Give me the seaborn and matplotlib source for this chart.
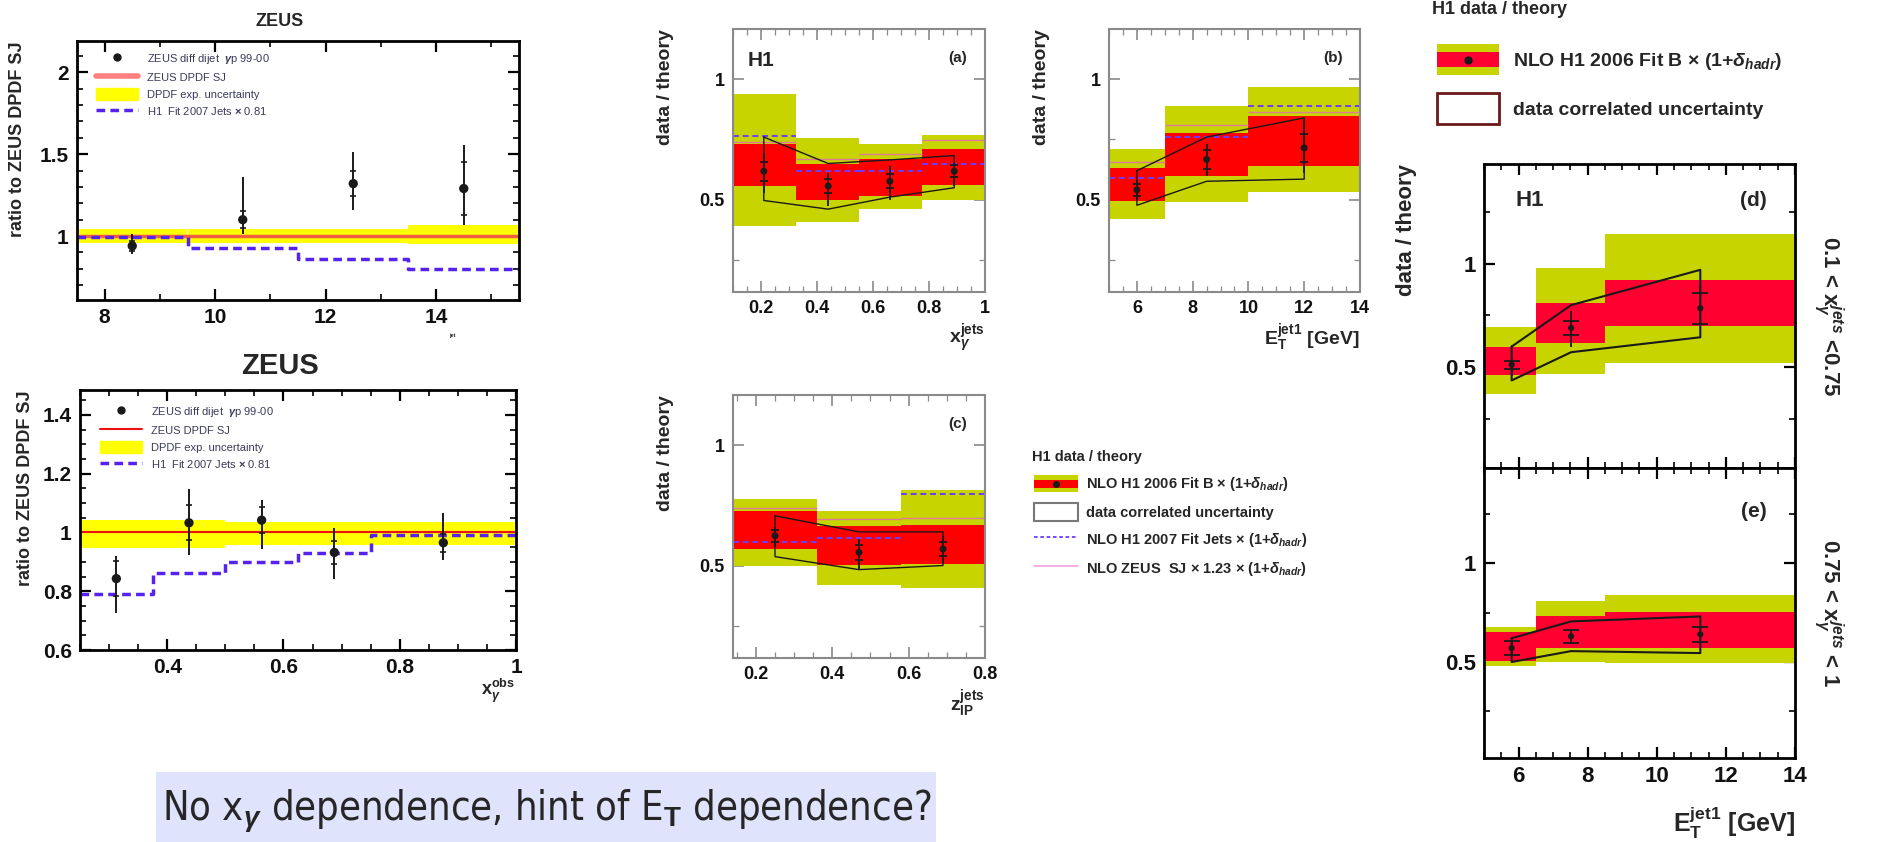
import numpy as np
import matplotlib
matplotlib.use("Agg")
import matplotlib.pyplot as plt
import seaborn as sns
from matplotlib.ticker import MultipleLocator, FuncFormatter
from matplotlib.patches import Rectangle, Patch
from matplotlib.lines import Line2D
from matplotlib.legend_handler import HandlerBase

# ZEUS: ratio to ZEUS DPDF SJ vs E_T^jet
zeus_et_edges = [7.5, 9.5, 11.5, 13.5, 15.5]
zeus_et_x = [8.5, 10.5, 12.5, 14.5]
zeus_et_y = [0.94, 1.10, 1.32, 1.29]
zeus_et_dn = [0.05, 0.09, 0.16, 0.225]
zeus_et_up = [0.07, 0.26, 0.19, 0.265]
zeus_et_stat = [0.03, 0.05, 0.075, 0.16]
zeus_et_band_lo = [0.957, 0.96, 0.955, 0.953]
zeus_et_band_hi = [1.045, 1.045, 1.045, 1.065]
zeus_et_h1fit = [0.994, 0.925, 0.86, 0.80]

# ZEUS: ratio vs x_gamma^obs
zeus_xg_edges = [0.25, 0.375, 0.5, 0.625, 0.75, 1.0]
zeus_xg_x = [0.3125, 0.4375, 0.5625, 0.6875, 0.875]
zeus_xg_y = [0.843, 1.033, 1.042, 0.932, 0.965]
zeus_xg_dn = [0.117, 0.108, 0.097, 0.092, 0.059]
zeus_xg_up = [0.077, 0.114, 0.068, 0.082, 0.10]
zeus_xg_stat = [0.06, 0.06, 0.045, 0.04, 0.03]
zeus_xg_band_lo = [0.948, 0.948, 0.957, 0.957, 0.957]
zeus_xg_band_hi = [1.044, 1.042, 1.036, 1.036, 1.034]
zeus_xg_h1fit = [0.79, 0.862, 0.90, 0.93, 0.99]

# H1 (a): data/theory vs x_gamma^jets
a_edges = [0.1, 0.325, 0.55, 0.775, 1.0]
a_x = [0.21, 0.44, 0.66, 0.89]
a_green_lo = [0.39, 0.405, 0.46, 0.50]
a_green_hi = [0.94, 0.757, 0.73, 0.767]
a_red_lo = [0.556, 0.50, 0.514, 0.56]
a_red_hi = [0.733, 0.646, 0.667, 0.71]
a_y = [0.618, 0.556, 0.576, 0.618]
a_dn = [0.09, 0.084, 0.076, 0.062]
a_up = [0.076, 0.055, 0.063, 0.035]
a_stat = [0.04, 0.03, 0.03, 0.025]
a_corr_lo = [0.496, 0.46, 0.51, 0.549]
a_corr_hi = [0.76, 0.65, 0.665, 0.683]
a_fitjets = [0.764, 0.618, 0.618, 0.646]
a_zeussj = [0.74, 0.67, 0.69, 0.747]

# H1 (b): data/theory vs E_T^jet1
b_edges = [5, 7, 10, 14]
b_x = [6, 8.5, 12]
b_green_lo = [0.417, 0.49, 0.53]
b_green_hi = [0.711, 0.89, 0.97]
b_red_lo = [0.493, 0.596, 0.64]
b_red_hi = [0.632, 0.778, 0.846]
b_y = [0.54, 0.667, 0.715]
b_dn = [0.04, 0.067, 0.105]
b_up = [0.04, 0.063, 0.115]
b_stat = [0.025, 0.04, 0.058]
b_corr_lo = [0.476, 0.576, 0.585]
b_corr_hi = [0.62, 0.76, 0.84]
b_fitjets = [0.59, 0.76, 0.89]
b_zeussj = [0.657, 0.81, 0.863]

# H1 (c): data/theory vs z_IP^jets
c_edges = [0.14, 0.36, 0.58, 0.8]
c_x = [0.25, 0.47, 0.69]
c_green_lo = [0.50, 0.42, 0.406]
c_green_hi = [0.779, 0.728, 0.815]
c_red_lo = [0.569, 0.503, 0.507]
c_red_hi = [0.727, 0.663, 0.668]
c_y = [0.624, 0.555, 0.569]
c_dn = [0.048, 0.069, 0.062]
c_up = [0.036, 0.055, 0.055]
c_stat = [0.025, 0.03, 0.03]
c_corr_lo = [0.537, 0.483, 0.50]
c_corr_hi = [0.707, 0.64, 0.64]
c_fitjets = [0.597, 0.615, 0.797]
c_zeussj = [0.739, 0.693, 0.697]

# H1 (d), (e): data/theory vs E_T^jet1 in two x_gamma bins
de_edges = [5, 6.5, 8.5, 14]
de_x = [5.8, 7.52, 11.26]
d_green_lo = [0.374, 0.47, 0.52]
d_green_hi = [0.694, 0.98, 1.145]
d_red_lo = [0.461, 0.617, 0.70]
d_red_hi = [0.597, 0.81, 0.92]
d_y = [0.513, 0.69, 0.785]
d_dn = [0.057, 0.09, 0.085]
d_up = [0.027, 0.08, 0.105]
d_stat = [0.02, 0.035, 0.075]
d_corr_lo = [0.437, 0.573, 0.645]
d_corr_hi = [0.60, 0.80, 0.97]

e_green_lo = [0.48, 0.50, 0.495]
e_green_hi = [0.677, 0.81, 0.84]
e_red_lo = [0.505, 0.57, 0.57]
e_red_hi = [0.652, 0.733, 0.752]
e_y = [0.57, 0.63, 0.64]
e_dn = [0.04, 0.037, 0.04]
e_up = [0.035, 0.037, 0.04]
e_stat = [0.035, 0.033, 0.037]
e_corr_lo = [0.50, 0.555, 0.545]
e_corr_hi = [0.62, 0.705, 0.73]

GREEN = "#c8d400"
RED = "#ff0000"
RED2 = "#ff0030"
BLUE = "#6a3cff"
PINK = "#e07a9a"
YELLOW = "#ffff00"

sns.set_theme(style="ticks")
plt.rcParams["font.family"] = ["Liberation Sans", "DejaVu Sans"]
plt.rcParams["font.weight"] = "bold"
plt.rcParams["axes.labelweight"] = "bold"
plt.rcParams["mathtext.fontset"] = "custom"
plt.rcParams["mathtext.rm"] = "Liberation Sans"
plt.rcParams["mathtext.it"] = "Liberation Sans:italic"
plt.rcParams["mathtext.bf"] = "Liberation Sans:bold"

W, H = 1881, 842
fig = plt.figure(figsize=(W / 100, H / 100), dpi=100)
fig.patch.set_facecolor("white")


def box(l, t, r, b):
    # pixel box -> figure fraction
    return [l / W, 1 - b / H, (r - l) / W, (b - t) / H]


def style_axes(ax, color, lw, xmaj, xmin, ymaj, ymin, fs):
    for s in ax.spines.values():
        s.set_color(color)
        s.set_linewidth(lw)
    ax.xaxis.set_major_locator(MultipleLocator(xmaj))
    ax.xaxis.set_minor_locator(MultipleLocator(xmin))
    ax.yaxis.set_major_locator(MultipleLocator(ymaj))
    ax.yaxis.set_minor_locator(MultipleLocator(ymin))
    fmt = FuncFormatter(lambda v, p: "%g" % round(v, 3))
    ax.xaxis.set_major_formatter(fmt)
    ax.yaxis.set_major_formatter(fmt)
    ax.tick_params(which="both", direction="in", top=True, right=True,
                   color=color, labelsize=fs, labelcolor="#111111")
    ax.tick_params(which="major", length=8, width=lw * 0.8, pad=6)
    ax.tick_params(which="minor", length=4, width=lw * 0.6)
    ax.set_facecolor("white")
    ax.grid(False)


def zeus_panel(ax, edges, x, y, dn, up, stat, band_lo, band_hi, h1fit, sj_color, sj_lw):
    ax.bar(edges[:-1], np.subtract(band_hi, band_lo), bottom=band_lo,
           width=np.diff(edges), align="edge", color=YELLOW, lw=0)
    ax.hlines(1.0, edges[0], edges[-1], colors=sj_color, lw=sj_lw)
    ax.step(edges, list(h1fit) + [h1fit[-1]], where="post", color="#5522ee",
            lw=2.5, ls=(0, (2.5, 1.5)))
    ax.errorbar(x, y, yerr=[dn, up], fmt="none", ecolor="k", elinewidth=1.4)
    ax.errorbar(x, y, yerr=stat, fmt="none", ecolor="k", elinewidth=0,
                capsize=2.5, capthick=1.2)
    sns.scatterplot(x=x, y=y, ax=ax, color="k", s=45, edgecolor="none", zorder=5)
    ax.set_xlim(edges[0], edges[-1])


def h1_panel(ax, edges, x, g_lo, g_hi, r_lo, r_hi, y, dn, up, stat, c_lo, c_hi,
             fitjets=None, zeussj=None, red=RED, corr_lw=1.0, cap=3, ms=25):
    w = np.diff(edges)
    ax.bar(edges[:-1], np.subtract(g_hi, g_lo), bottom=g_lo, width=w,
           align="edge", color=GREEN, lw=0)
    ax.bar(edges[:-1], np.subtract(r_hi, r_lo), bottom=r_lo, width=w,
           align="edge", color=red, lw=0)
    if zeussj is not None:
        ax.hlines(zeussj, edges[:-1], edges[1:], colors=PINK, lw=1.0)
    if fitjets is not None:
        ax.hlines(fitjets, edges[:-1], edges[1:], colors=BLUE, lw=1.4,
                  linestyles=(0, (3, 2)))
    xs = list(x) + list(x[::-1]) + [x[0]]
    ys = list(c_hi) + list(c_lo[::-1]) + [c_hi[0]]
    sns.lineplot(x=xs, y=ys, sort=False, estimator=None, ax=ax, color="k",
                 lw=corr_lw)
    ax.errorbar(x, y, yerr=[dn, up], fmt="none", ecolor="k", elinewidth=1.3)
    ax.errorbar(x, y, yerr=stat, fmt="none", ecolor="k", elinewidth=0,
                capsize=cap, capthick=1.3)
    sns.scatterplot(x=x, y=y, ax=ax, color="k", s=ms, edgecolor="none", zorder=5)
    ax.set_xlim(edges[0], edges[-1])
    ax.set_ylim(0.115, 1.21)


class BandHandler(HandlerBase):
    def __init__(self, inner, ms):
        super().__init__()
        self.inner = inner
        self.ms = ms

    def create_artists(self, legend, orig_handle, xdescent, ydescent, width,
                       height, fontsize, trans):
        g = Rectangle((-xdescent, -ydescent), width, height, fc=GREEN,
                      ec="none", transform=trans)
        r = Rectangle((-xdescent, -ydescent + 0.27 * height), width,
                      0.46 * height, fc=self.inner, ec="none", transform=trans)
        d = Line2D([-xdescent + width / 2], [-ydescent + height / 2],
                   marker="o", ms=self.ms, color="k", ls="none", transform=trans)
        return [g, r, d]


# ---------------- ZEUS top ----------------
ax1 = fig.add_axes(box(77, 41, 519, 300))
zeus_panel(ax1, zeus_et_edges, zeus_et_x, zeus_et_y, zeus_et_dn, zeus_et_up,
           zeus_et_stat, zeus_et_band_lo, zeus_et_band_hi, zeus_et_h1fit,
           "#f06040", 2.5)
ax1.set_ylim(0.61, 2.19)
style_axes(ax1, "black", 2.0, 2, 1, 0.5, 0.1, 15)
ax1.set_ylabel("ratio to ZEUS DPDF SJ", fontsize=13, loc="top", labelpad=10)
fig.text(280 / W, 1 - 22 / H, "ZEUS", fontsize=13, ha="center", va="center")
fig.text(452 / W, 1 - 336 / H, "jet", fontsize=4, ha="center", va="center")
zh = [Line2D([], [], marker="o", ls="none", color="k", ms=5),
      Line2D([], [], color="#ff8080", lw=4),
      Patch(color=YELLOW),
      Line2D([], [], color="#5522ee", lw=2.5, ls=(0, (2.5, 1.5)))]
zl = [r"ZEUS diff dijet  $\gamma$p 99-00", "ZEUS DPDF SJ",
      "DPDF exp. uncertainty", r"H1  Fit 2007 Jets $\times$ 0.81"]
ax1.legend(zh, zl, loc="upper left", bbox_to_anchor=(96 / W, 1 - 52 / H),
           bbox_transform=fig.transFigure, frameon=False,
           prop={"size": 8, "weight": "normal"}, labelcolor="#3a3a5a",
           handlelength=3.8, handleheight=1.3, labelspacing=0.45,
           borderpad=0, borderaxespad=0, handletextpad=0.8)

# ---------------- ZEUS bottom ----------------
ax2 = fig.add_axes(box(80, 390, 516, 650))
zeus_panel(ax2, zeus_xg_edges, zeus_xg_x, zeus_xg_y, zeus_xg_dn, zeus_xg_up,
           zeus_xg_stat, zeus_xg_band_lo, zeus_xg_band_hi, zeus_xg_h1fit,
           "#ee1111", 1.5)
ax2.set_ylim(0.6, 1.485)
style_axes(ax2, "black", 2.0, 0.2, 0.05, 0.2, 0.05, 15)
ax2.set_ylabel("ratio to ZEUS DPDF SJ", fontsize=13, loc="top", labelpad=6)
fig.text(280 / W, 1 - 366 / H, "ZEUS", fontsize=21, ha="center", va="center")
fig.text(498 / W, 1 - 691 / H, r"$\mathbf{x}_\gamma^{\mathbf{obs}}$",
         fontsize=13, ha="center", va="center")
zh2 = [Line2D([], [], marker="o", ls="none", color="k", ms=5),
       Line2D([], [], color="#ee1111", lw=1.5),
       Patch(color=YELLOW),
       Line2D([], [], color="#5522ee", lw=2.5, ls=(0, (2.5, 1.5)))]
ax2.legend(zh2, zl, loc="upper left", bbox_to_anchor=(100 / W, 1 - 405 / H),
           bbox_transform=fig.transFigure, frameon=False,
           prop={"size": 8, "weight": "normal"}, labelcolor="#3a3a5a",
           handlelength=3.8, handleheight=1.3, labelspacing=0.45,
           borderpad=0, borderaxespad=0, handletextpad=0.8)

# ---------------- H1 (a) ----------------
ax_a = fig.add_axes(box(733, 29, 985, 292))
h1_panel(ax_a, a_edges, a_x, a_green_lo, a_green_hi, a_red_lo, a_red_hi, a_y,
         a_dn, a_up, a_stat, a_corr_lo, a_corr_hi, a_fitjets, a_zeussj)
style_axes(ax_a, "#8a8a8a", 1.5, 0.2, 0.05, 0.5, 0.25, 13)
ax_a.set_ylabel("data / theory", fontsize=14, loc="top", labelpad=18)
ax_a.set_xlabel(r"$\mathbf{x}_\gamma^{\mathbf{jets}}$", fontsize=14,
                loc="right", labelpad=4)
ax_a.text(0.06, 0.88, "H1", transform=ax_a.transAxes, fontsize=15, va="center")
ax_a.text(0.93, 0.89, "(a)", transform=ax_a.transAxes, fontsize=11,
          va="center", ha="right")

# ---------------- H1 (b) ----------------
ax_b = fig.add_axes(box(1109, 29, 1360, 292))
h1_panel(ax_b, b_edges, b_x, b_green_lo, b_green_hi, b_red_lo, b_red_hi, b_y,
         b_dn, b_up, b_stat, b_corr_lo, b_corr_hi, b_fitjets, b_zeussj)
style_axes(ax_b, "#8a8a8a", 1.5, 2, 0.5, 0.5, 0.25, 13)
ax_b.set_ylabel("data / theory", fontsize=14, loc="top", labelpad=18)
ax_b.set_xlabel(r"$\mathbf{E}_\mathbf{T}^{\mathbf{jet1}}$ [GeV]", fontsize=14,
                loc="right", labelpad=4)
ax_b.text(0.93, 0.89, "(b)", transform=ax_b.transAxes, fontsize=11,
          va="center", ha="right")

# ---------------- H1 (c) ----------------
ax_c = fig.add_axes(box(733, 395, 985, 658))
h1_panel(ax_c, c_edges, c_x, c_green_lo, c_green_hi, c_red_lo, c_red_hi, c_y,
         c_dn, c_up, c_stat, c_corr_lo, c_corr_hi, c_fitjets, c_zeussj)
style_axes(ax_c, "#8a8a8a", 1.5, 0.2, 0.05, 0.5, 0.25, 13)
ax_c.set_ylabel("data / theory", fontsize=14, loc="top", labelpad=18)
ax_c.set_xlabel(r"$\mathbf{z}_{\mathbf{IP}}^{\mathbf{jets}}$", fontsize=14,
                loc="right", labelpad=4)
ax_c.text(0.93, 0.89, "(c)", transform=ax_c.transAxes, fontsize=11,
          va="center", ha="right")

# middle legend
band_mid = Patch(color=GREEN)
mid_h = [band_mid, Patch(fc="white", ec="#777777", lw=1.5),
         Line2D([], [], color=BLUE, lw=1.3, ls=(0, (2, 1.5))),
         Line2D([], [], color="#f0a0e0", lw=1.2)]
mid_l = [r"NLO H1 2006 Fit B $\times$ (1+$\delta_{hadr}$)",
         "data correlated uncertainty",
         r"NLO H1 2007 Fit Jets $\times$ (1+$\delta_{hadr}$)",
         r"NLO ZEUS  SJ $\times$ 1.23 $\times$ (1+$\delta_{hadr}$)"]
fig.text(1032 / W, 1 - 457 / H, "H1 data / theory", fontsize=10.5,
         va="center", ha="left")
fig.legend(mid_h, mid_l, loc="upper left", bbox_to_anchor=(1034 / W, 1 - 475 / H),
           frameon=False, prop={"size": 10.5, "weight": "bold"},
           handlelength=3.0, handleheight=1.45, labelspacing=0.68,
           borderpad=0, borderaxespad=0, handletextpad=0.6,
           handler_map={band_mid: BandHandler(RED, 4)})

# ---------------- H1 (d) ----------------
ax_d = fig.add_axes(box(1484, 164, 1795, 468))
h1_panel(ax_d, de_edges, de_x, d_green_lo, d_green_hi, d_red_lo, d_red_hi, d_y,
         d_dn, d_up, d_stat, d_corr_lo, d_corr_hi, red=RED2, corr_lw=1.5,
         cap=6, ms=20)
ax_d.set_ylim(0.015, 1.48)
style_axes(ax_d, "black", 2.0, 2, 0.5, 0.5, 0.25, 16)
ax_d.tick_params(labelbottom=False)
ax_d.set_ylabel("data / theory", fontsize=16, loc="top", labelpad=20)
ax_d.text(0.1, 0.88, "H1", transform=ax_d.transAxes, fontsize=16, va="center")
ax_d.text(0.91, 0.88, "(d)", transform=ax_d.transAxes, fontsize=15,
          va="center", ha="right")
ax_d.text(1.11, 0.5, r"0.1 < x$_\gamma^{jets}$ <0.75", transform=ax_d.transAxes,
          fontsize=16, rotation=270, va="center", ha="center")

# ---------------- H1 (e) ----------------
ax_e = fig.add_axes(box(1484, 468, 1795, 758))
h1_panel(ax_e, de_edges, de_x, e_green_lo, e_green_hi, e_red_lo, e_red_hi, e_y,
         e_dn, e_up, e_stat, e_corr_lo, e_corr_hi, red=RED2, corr_lw=1.5,
         cap=6, ms=20)
ax_e.set_ylim(0.015, 1.48)
style_axes(ax_e, "black", 2.0, 2, 0.5, 0.5, 0.25, 16)
ax_e.set_xlabel(r"$\mathbf{E}_\mathbf{T}^{\mathbf{jet1}}$ [GeV]", fontsize=18,
                loc="right", labelpad=12)
ax_e.text(0.91, 0.85, "(e)", transform=ax_e.transAxes, fontsize=15,
          va="center", ha="right")
ax_e.text(1.11, 0.5, r"0.75 < x$_\gamma^{jets}$ < 1", transform=ax_e.transAxes,
          fontsize=16, rotation=270, va="center", ha="center")

# right legend
band_r = Patch(color=GREEN)
fig.text(1432 / W, 1 - 10 / H, "H1 data / theory", fontsize=13, va="center",
         ha="left")
fig.legend([band_r, Patch(fc="white", ec="#6b1a1a", lw=2.0)],
           [r"NLO H1 2006 Fit B $\times$ (1+$\delta_{hadr}$)",
            "data correlated uncertainty"],
           loc="upper left", bbox_to_anchor=(1437 / W, 1 - 44 / H),
           frameon=False, prop={"size": 14, "weight": "bold"},
           handlelength=3.2, handleheight=2.1, labelspacing=0.9,
           borderpad=0, borderaxespad=0, handletextpad=0.7,
           handler_map={band_r: BandHandler(RED2, 5)})

# bottom comment box
fig.patches.append(Rectangle((156 / W, 0), (936 - 156) / W, (842 - 772) / H,
                             transform=fig.transFigure, fc="#dfe3fb", ec="none",
                             zorder=0))
fig.text(162 / W, 1 - 812 / H,
         r"No x$_\gamma$ dependence, hint of E$_\mathrm{T}$ dependence?",
         fontsize=28.5, fontweight="normal", fontstretch="condensed",
         va="center", ha="left", family=["DejaVu Sans"])

fig.savefig("out.png", dpi=100)
